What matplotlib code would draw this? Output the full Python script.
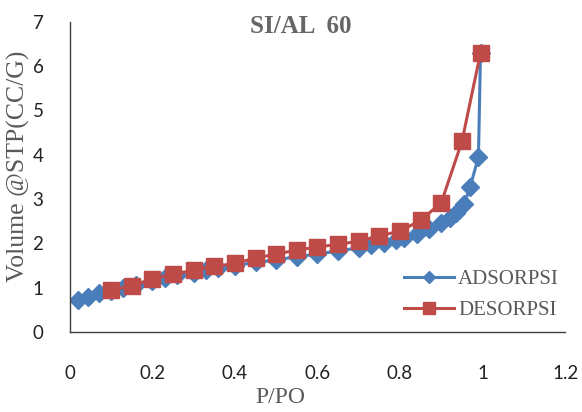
import matplotlib
matplotlib.use("Agg")
import matplotlib.pyplot as plt

# adsorption / desorption isotherm, Si/Al 60
ads_x = [0.02, 0.045, 0.07, 0.1, 0.13, 0.16, 0.2, 0.23, 0.26, 0.3, 0.33, 0.36,
         0.4, 0.45, 0.5, 0.55, 0.6, 0.65, 0.7, 0.73, 0.76, 0.79, 0.81, 0.84,
         0.87, 0.9, 0.92, 0.935, 0.955, 0.97, 0.99, 0.995]
ads_y = [0.72, 0.8, 0.88, 0.93, 1.0, 1.07, 1.15, 1.22, 1.28, 1.34, 1.4, 1.45,
         1.5, 1.57, 1.63, 1.7, 1.76, 1.83, 1.9, 1.96, 2.02, 2.08, 2.13, 2.22,
         2.32, 2.45, 2.58, 2.68, 2.88, 3.28, 3.95, 6.3]

des_x = [0.1, 0.15, 0.2, 0.25, 0.3, 0.35, 0.4, 0.45, 0.5, 0.55, 0.6, 0.65,
         0.7, 0.75, 0.8, 0.85, 0.9, 0.95, 0.995]
des_y = [0.95, 1.04, 1.2, 1.3, 1.4, 1.48, 1.55, 1.67, 1.76, 1.85, 1.92, 1.98,
         2.05, 2.17, 2.28, 2.52, 2.92, 4.3, 6.3]

x_ticks = [0, 0.2, 0.4, 0.6, 0.8, 1, 1.2]
x_tick_labels = ["0", "0.2", "0.4", "0.6", "0.8", "1", "1.2"]
y_ticks = [0, 1, 2, 3, 4, 5, 6, 7]

blue = "#4A7EBB"
red = "#BE4B48"
gray = "#595959"
serif = "Liberation Serif"

fig = plt.figure(figsize=(5.82, 4.12), dpi=100)
ax = fig.add_axes([0.120, 0.194, 0.851, 0.753])

ax.plot(ads_x, ads_y, color=blue, lw=2.2, marker="D", ms=9, label="ADSORPSI", zorder=2)
ax.plot(des_x, des_y, color=red, lw=2.2, marker="s", ms=11.5, label="DESORPSI", zorder=3)

ax.set_xlim(0, 1.2)
ax.set_ylim(0, 7)
ax.set_xticks(x_ticks)
ax.set_xticklabels(x_tick_labels)
ax.set_yticks(y_ticks)
ax.tick_params(axis="both", length=0, labelsize=13.5, colors="#222222")
ax.tick_params(axis="x", pad=24)
ax.tick_params(axis="y", pad=19)
for lab in ax.get_xticklabels() + ax.get_yticklabels():
    lab.set_fontfamily("Lato")

for s in ["top", "right"]:
    ax.spines[s].set_visible(False)
for s in ["left", "bottom"]:
    ax.spines[s].set_color("#404040")
    ax.spines[s].set_linewidth(1.0)

fig.text(0.517, 0.935, "SI/AL  60", ha="center", va="center", fontsize=18,
         fontweight="bold", family=serif, color="#666666")
fig.text(0.031, 0.597, "Volume @STP(CC/G)", rotation=90, ha="center", va="center",
         fontsize=18.5, family=serif, color=gray)
fig.text(0.481, 0.035, "P/PO", ha="center", va="center", fontsize=17,
         family=serif, color=gray)

leg = ax.legend(loc="upper left", bbox_to_anchor=(0.694, 0.345), bbox_transform=fig.transFigure,
                frameon=False, prop={"family": serif, "size": 15},
                handlelength=2.4, handletextpad=0.2, labelspacing=0.55,
                borderaxespad=0, borderpad=0)
for t in leg.get_texts():
    t.set_color(gray)
for h in leg.legend_handles:
    h.set_markersize(h.get_markersize() * 0.7)

fig.savefig("out.png", dpi=100)
